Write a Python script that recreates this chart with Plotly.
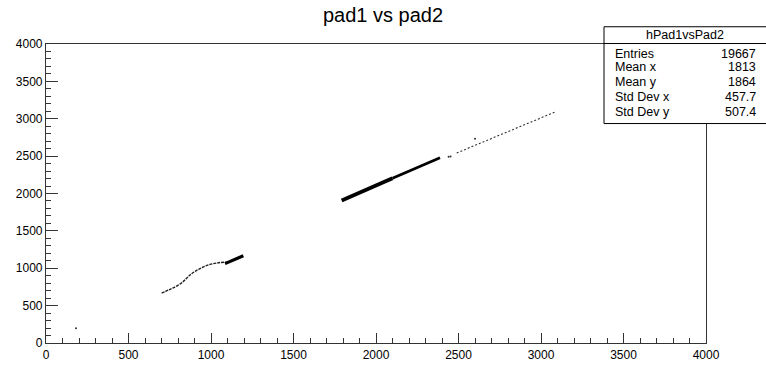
import plotly.graph_objects as go

# --- data: pad1 (x) vs pad2 (y) correlation tracks ---
# dense main band
band_lo_x = [1792, 1960, 2100]
band_lo_y = [1906, 2068, 2203]
band_hi_x = [2100, 2250, 2388]
band_hi_y = [2203, 2345, 2478]
# sparse continuation above the band
sparse_x = [2489, 2780, 3085]
sparse_y = [2542, 2810, 3090]
# low-amplitude curved branch
curve_x = [701, 752, 822, 873, 933, 994, 1055, 1105]
curve_y = [667, 718, 804, 910, 996, 1051, 1076, 1081]
# dense end of the curved branch
curve_dense_x = [1085, 1140, 1196]
curve_dense_y = [1062, 1110, 1167]
# isolated entries
iso_x = [182, 2440, 2452, 2600]
iso_y = [196, 2490, 2495, 2731]

# statistics box contents
stats_title = "hPad1vsPad2"
stats_labels = ["Entries", "Mean x", "Mean y", "Std Dev x", "Std Dev y"]
stats_values = ["19667", "1813", "1864", "457.7", "507.4"]

x_ticks = [0, 500, 1000, 1500, 2000, 2500, 3000, 3500, 4000]
y_ticks = [0, 500, 1000, 1500, 2000, 2500, 3000, 3500, 4000]

FONT = "Liberation Sans, Arial, sans-serif"
W, H = 766, 374
L, R, T, B = 46, 706, 44, 356

fig = go.Figure()
fig.add_trace(go.Scatter(x=band_lo_x, y=band_lo_y, mode="lines",
                         line=dict(color="black", width=3.8)))
fig.add_trace(go.Scatter(x=band_hi_x, y=band_hi_y, mode="lines",
                         line=dict(color="black", width=2.8)))
fig.add_trace(go.Scatter(x=sparse_x, y=sparse_y, mode="lines",
                         line=dict(color="#333", width=1.1, dash="2px,2px")))
fig.add_trace(go.Scatter(x=curve_x, y=curve_y, mode="lines",
                         line=dict(color="#222", width=1.4, dash="3px,1px", shape="spline")))
fig.add_trace(go.Scatter(x=curve_dense_x, y=curve_dense_y, mode="lines",
                         line=dict(color="black", width=3.2)))
fig.add_trace(go.Scatter(x=iso_x, y=iso_y, mode="markers",
                         marker=dict(color="#333", size=2)))


def px(xp):
    return (xp - L) / (R - L)


def py(yp):
    return (B - yp) / (B - T)


axis_common = dict(
    showgrid=False, zeroline=False, showline=True, mirror=True,
    linecolor="#333", linewidth=1.2,
    ticks="inside", tickcolor="#333", tickwidth=1,
    minor=dict(dtick=100, ticks="inside", ticklen=5, tickcolor="#333", tickwidth=1),
    tickfont=dict(family=FONT, size=12, color="black"),
)
fig.update_xaxes(range=[0, 4000], tickvals=x_ticks, ticktext=[str(v) for v in x_ticks],
                 ticklen=10, **axis_common)
fig.update_yaxes(range=[0, 4000], tickvals=y_ticks, ticktext=[str(v) for v in y_ticks],
                 ticklen=12, **axis_common)

shapes = [
    dict(type="rect", xref="paper", yref="paper", x0=px(604), x1=px(772),
         y0=py(127), y1=py(26), fillcolor="white", line=dict(color="black", width=1)),
    dict(type="line", xref="paper", yref="paper", x0=px(604), x1=px(772),
         y0=py(43.5), y1=py(43.5), line=dict(color="black", width=1)),
]
annotations = [
    dict(text="pad1 vs pad2", xref="paper", yref="paper", x=px(383), y=py(14),
         xanchor="center", yanchor="middle", showarrow=False,
         font=dict(family=FONT, size=20, color="black")),
    dict(text=stats_title, xref="paper", yref="paper", x=px(685), y=py(35),
         xanchor="center", yanchor="middle", showarrow=False,
         font=dict(family=FONT, size=12.5, color="black")),
]
row_y = [54.5, 68.5, 84, 99.5, 114.5]
for lab, val, yy in zip(stats_labels, stats_values, row_y):
    annotations.append(dict(text=lab, xref="paper", yref="paper", x=px(613), y=py(yy),
                            xanchor="left", yanchor="middle", showarrow=False,
                            font=dict(family=FONT, size=12.5, color="black")))
    annotations.append(dict(text=val, xref="paper", yref="paper", x=px(758), y=py(yy),
                            xanchor="right", yanchor="middle", showarrow=False,
                            font=dict(family=FONT, size=12.5, color="black")))

fig.update_layout(
    width=W, height=H, autosize=False,
    margin=dict(l=L, r=W - R, t=T, b=H - B, pad=0),
    paper_bgcolor="white", plot_bgcolor="white",
    showlegend=False, shapes=shapes, annotations=annotations,
)

fig.write_html("out.html")
